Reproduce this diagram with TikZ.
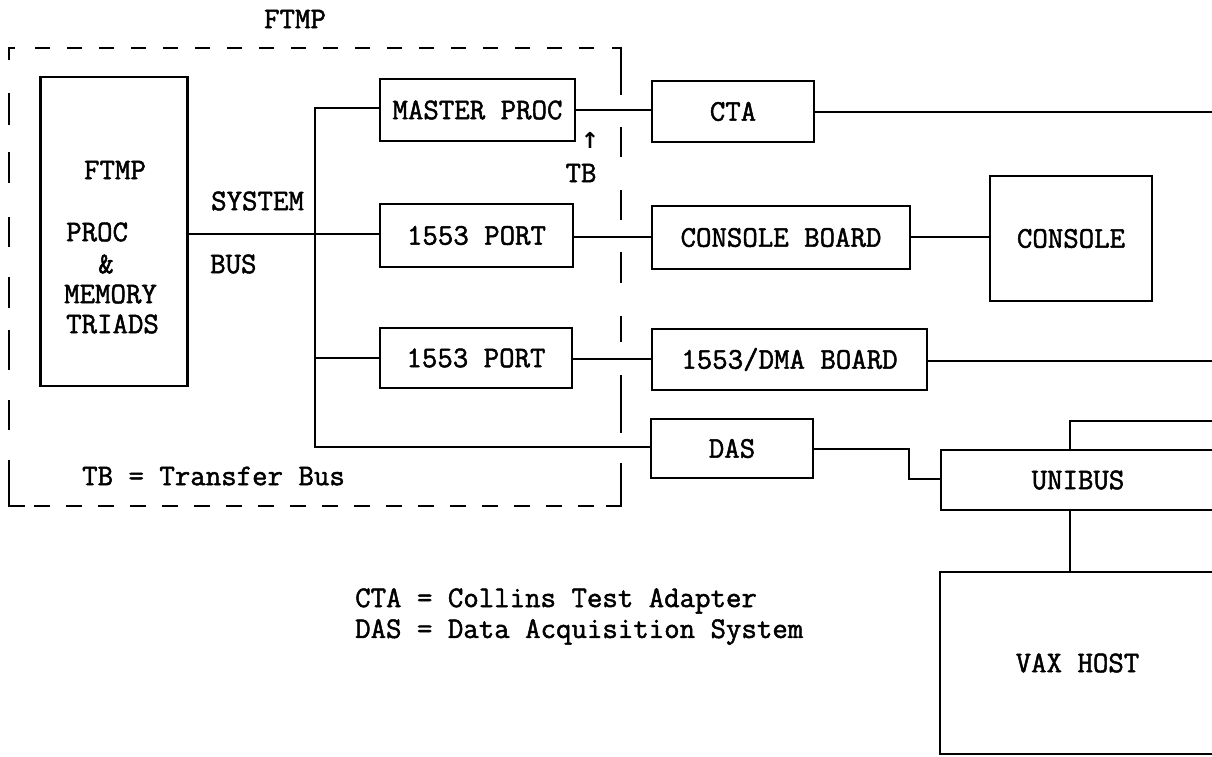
\documentclass[tikz,border=0pt]{standalone}
\usepackage{fontspec}
\newfontfamily\tmono[BoldFont={Latin Modern Mono}, BoldFeatures={FakeBold=1.6}]{Latin Modern Mono}
\newfontfamily\arrowfont{DejaVu Sans}
\newcommand\tfont{\tmono\bfseries\fontsize{30}{36}\selectfont}
\tikzset{
  box/.style={draw, line width=2.2pt, inner sep=0pt, font=\tfont},
  lbl/.style={inner sep=0pt, font=\tfont},
  wire/.style={line width=2.2pt},
  frame/.style={line width=2.2pt},
}
\begin{document}
\begin{tikzpicture}[x=1pt,y=-1pt]
\useasboundingbox (0,0) rectangle (1212,756);
\clip (0,0) rectangle (1212,756);

% title
\node[lbl] (ftmptitle) at (295,19) {FTMP};

% dashed frame
\draw[frame] (15,48) -- (9,48) -- (9,60);
\foreach \a/\b in {93/125,152/183,217/247,277/308,330/370,400/430}
  \draw[frame] (9,\a) -- (9,\b);
\draw[frame] (9,460) -- (9,506) -- (25,506);
\draw[frame, dash pattern=on 15pt off 17pt] (35,48) -- (600,48);
\draw[frame] (612,48) -- (621,48) -- (621,95);
\foreach \a/\b in {127/157,190/220,252/283,316/342,375/433}
  \draw[frame] (621,\a) -- (621,\b);
\draw[frame] (621,463) -- (621,506) -- (606,506);
\draw[frame, dash pattern=on 16pt off 16pt] (34,506) -- (596,506);

% FTMP processor box
\node[box, minimum width=147pt, minimum height=309pt] (proc) at (114,231.5) {};
\node[lbl] (t1) at (115,170) {FTMP};
\node[lbl, anchor=west] (t2) at (66,232) {PROC};
\node[lbl] (t3) at (106,264) {\&};
\node[lbl, anchor=west] (t4) at (64,294) {MEMORY};
\node[lbl, anchor=west] (t5) at (66,324) {TRIADS};

\node[lbl, anchor=west] (sys) at (211,201) {SYSTEM};
\node[lbl, anchor=west] (bus) at (210,264) {BUS};

% boxes inside FTMP
\node[box, minimum width=195pt, minimum height=62pt] (mp) at (477.5,110) {MASTER PROC};
\node[box, minimum width=193pt, minimum height=63pt] (pa) at (476.5,235.5) {1553 PORT};
\node[box, minimum width=192pt, minimum height=60pt] (pb) at (476,358) {1553 PORT};

\node[lbl] (arr) at (590,140) {\arrowfont\fontsize{22}{24}\selectfont ↑};
\node[lbl] (tb) at (581,173) {TB};
\node[lbl, anchor=west] (tbl) at (82,476) {TB = Transfer Bus};

% outside boxes
\node[box, minimum width=162pt, minimum height=61pt] (cta) at (733,111.5) {CTA};
\node[box, minimum width=258pt, minimum height=63pt] (cb) at (781,237.5) {CONSOLE BOARD};
\node[box, minimum width=162pt, minimum height=125pt] (con) at (1071,238.5) {CONSOLE};
\node[box, minimum width=275pt, minimum height=61pt] (dma) at (789.5,359.5) {1553/DMA BOARD};
\node[box, minimum width=162pt, minimum height=59pt] (das) at (732,448.5) {DAS};
\node[box, minimum width=274pt, minimum height=60pt] (uni) at (1078,480) {UNIBUS};
\node[box, minimum width=275pt, minimum height=182pt] (vax) at (1077.5,663) {VAX HOST};

% legend
\node[lbl, anchor=west] (leg1) at (355,601) {CTA = Collins Test Adapter};
\node[lbl, anchor=west] (leg2) at (355,632) {DAS = Data Acquisition System};

% bus wiring
\coordinate (btop) at (315,108);
\coordinate (bbot) at (315,447);
\draw[wire] (proc.east |- 0,234) -- (pa.west |- 0,234);
\draw[wire] (mp.west |- 0,108) -- (btop) -- (bbot) -- (das.west |- bbot);
\draw[wire] (315,358) -- (pb.west |- 0,358);

% connections
\draw[wire] (mp.east |- 0,110) -- (cta.west |- 0,110);
\coordinate (e1) at (1216,112);
\draw[wire] (cta.east |- e1) -- (e1);
\draw[wire] (pa.east |- 0,237) -- (cb.west |- 0,237);
\draw[wire] (cb.east |- 0,237) -- (con.west |- 0,237);
\draw[wire] (pb.east |- 0,359) -- (dma.west |- 0,359);
\coordinate (e2) at (1216,361);
\draw[wire] (dma.east |- e2) -- (e2);
\draw[wire] (das.east |- 0,449) -- (909,449) -- (909,479) -- (uni.west |- 0,479);
\coordinate (e3) at (1216,421);
\draw[wire] (uni.north -| 1070,0) -- (1070,421) -- (e3);
\draw[wire] (uni.south -| 1070,0) -- (vax.north -| 1070,0);
\end{tikzpicture}
\end{document}
